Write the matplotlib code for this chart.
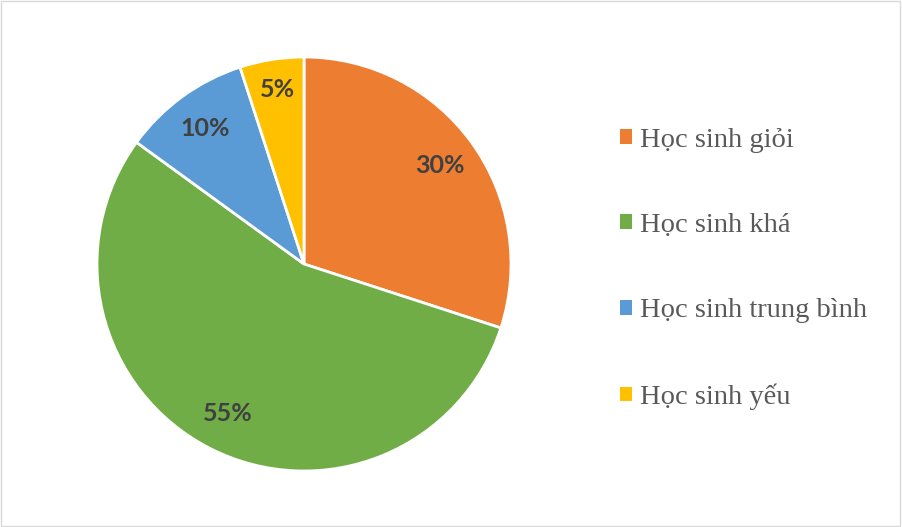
import matplotlib.pyplot as plt
from matplotlib.patches import Rectangle

labels = ['Học sinh giỏi', 'Học sinh khá', 'Học sinh trung bình', 'Học sinh yếu']
values = [30, 55, 10, 5]
colors = ['#ED7D31', '#70AD47', '#5B9BD5', '#FFC000']

fig = plt.figure(figsize=(9.02, 5.27), dpi=100)
ax = fig.add_axes([97 / 902, 56 / 527, 414 / 902, 414 / 527])

wedges, texts, autotexts = ax.pie(
    values, colors=colors, startangle=90, counterclock=False,
    autopct='%d%%', pctdistance=0.81, radius=1,
    wedgeprops=dict(edgecolor='white', linewidth=2),
    textprops=dict(color='#404040', fontsize=18, fontweight='bold', family='Lato'))
# nudge the small slice label outward a bit
autotexts[3].set_position((-0.13, 0.845))
ax.set_xlim(-1, 1)
ax.set_ylim(-1, 1)

leg = fig.legend(wedges, labels, loc='upper left', bbox_to_anchor=(594 / 902, 1 - 102 / 527),
                 frameon=False, handlelength=0.42, handleheight=0.42, handletextpad=0.3,
                 labelspacing=2.12, prop=dict(family='Liberation Serif', size=20.5))
for t in leg.get_texts():
    t.set_color('#595959')
for h in leg.legend_handles:
    h.set_edgecolor('none')

fig.patches.append(Rectangle((0.001, 0.002), 0.997, 0.996, transform=fig.transFigure,
                             fill=False, edgecolor='#D9D9D9', linewidth=1))

fig.savefig('out.png', dpi=100)
